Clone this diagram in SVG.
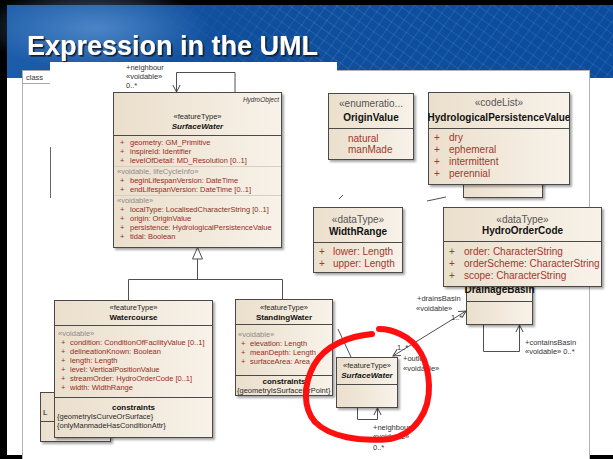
<svg xmlns="http://www.w3.org/2000/svg" width="613" height="459" viewBox="0 0 613 459">
  <defs>
    <style>
      text { font-family: "Liberation Sans", Arial, Helvetica, sans-serif; }
      .box { fill: url(#boxFill); stroke: #4a4a4a; stroke-width: 1; filter: url(#shadow); }
      .sep { stroke: #4a4a4a; stroke-width: 1; fill: none; }
      .sepl { stroke: #d9cfbf; stroke-width: 1; fill: none; }
      .edge { stroke: #505050; stroke-width: 1; fill: none; }
      .s7 { font-size: 7.5px; fill: #962c24; }
      .k7 { font-size: 7.5px; fill: #2a2a2a; }
      .g7 { font-size: 7.5px; fill: #8c8c8c; }
      .b8 { font-size: 8px; font-weight: bold; fill: #111; }
      .s10 { font-size: 10px; fill: #a3372e; }
      .k10 { font-size: 10px; fill: #555; }
      .b10 { font-size: 10px; font-weight: bold; fill: #111; }
      .lbl { font-size: 7.5px; fill: #333; }
      .mid { text-anchor: middle; }
    </style>
    <linearGradient id="hdrFill" x1="0" y1="0" x2="1" y2="0">
      <stop offset="0" stop-color="#1c5ca8"/>
      <stop offset="0.35" stop-color="#0f4f9e"/>
      <stop offset="1" stop-color="#0a4d9e"/>
    </linearGradient>
    <radialGradient id="mapGlow" cx="0.5" cy="0.5" r="0.5">
      <stop offset="0" stop-color="#5e95d2" stop-opacity="0.75"/>
      <stop offset="1" stop-color="#5e95d2" stop-opacity="0"/>
    </radialGradient>
    <pattern id="mesh" width="9" height="9" patternUnits="userSpaceOnUse" patternTransform="rotate(35)">
      <path d="M0 0 H9 M0 0 V9" stroke="#ffffff" stroke-opacity="0.25" stroke-width="0.8" fill="none"/>
    </pattern>
    <linearGradient id="meshFade" x1="0" y1="0" x2="1" y2="0">
      <stop offset="0" stop-color="#fff" stop-opacity="0"/>
      <stop offset="0.35" stop-color="#fff" stop-opacity="1"/>
      <stop offset="1" stop-color="#fff" stop-opacity="0.8"/>
    </linearGradient>
    <mask id="meshMask">
      <rect x="150" y="5" width="463" height="73" fill="url(#meshFade)"/>
    </mask>
    <linearGradient id="boxFill" x1="0" y1="0" x2="1" y2="0">
      <stop offset="0" stop-color="#ebdfcc"/>
      <stop offset="1" stop-color="#f8f2e9"/>
    </linearGradient>
    <filter id="shadow" x="-10%" y="-10%" width="130%" height="130%">
      <feDropShadow dx="2" dy="2" stdDeviation="1" flood-color="#000" flood-opacity="0.35"/>
    </filter>
    <filter id="titleShadow" x="-5%" y="-20%" width="110%" height="150%">
      <feDropShadow dx="1.6" dy="1.6" stdDeviation="0.7" flood-color="#151515" flood-opacity="0.9"/>
    </filter>
    <marker id="openArrow" viewBox="-9 -6 11 12" refX="0" refY="0" markerWidth="11" markerHeight="12" markerUnits="userSpaceOnUse" orient="auto-start-reverse">
      <path d="M-7,-3.6 L0,0 L-7,3.6" fill="none" stroke="#444" stroke-width="1"/>
    </marker>
    <clipPath id="clipSW"><rect x="113" y="92" width="168.5" height="155"/></clipPath>
    <clipPath id="clipWC"><rect x="54" y="300" width="158.5" height="137"/></clipPath>
    <clipPath id="clipHPV"><rect x="428" y="92" width="141.5" height="92"/></clipPath>
    <clipPath id="clipSSW"><rect x="336" y="357" width="61.5" height="50"/></clipPath>
  </defs>

  <!-- slide frame and header band -->
  <rect x="0" y="0" width="613" height="459" fill="#000"/>
  <rect x="7" y="5" width="606" height="450" fill="#fff"/>
  <rect x="7" y="5" width="606" height="73" fill="url(#hdrFill)"/>
  <ellipse cx="95" cy="28" rx="115" ry="42" fill="url(#mapGlow)"/>
  <rect x="150" y="5" width="463" height="73" fill="url(#mesh)" mask="url(#meshMask)"/>
  <text x="27" y="55" font-size="27" font-weight="bold" fill="#fff" filter="url(#titleShadow)">Expression in the UML</text>

  <!-- diagram frame -->
  <rect x="22.5" y="70.5" width="567" height="390" fill="#fff" stroke="#b3b3b3"/>
  <rect x="22.5" y="70.5" width="36" height="13" fill="#fff" stroke="#a8a8a8"/>
  <text x="26" y="80" font-size="7.5" fill="#333">class</text>
  <rect x="50" y="62" width="287" height="200" fill="#fff"/>
  <path d="M50.5 147 V198" stroke="#666" stroke-width="1"/>

  <!-- connectors -->
  <g id="connectors">
    <path class="edge" d="M235 92.5 V72.5 H176.5 V92" marker-end="url(#openArrow)"/>
    <path class="edge" d="M197.5 259 V279.5 M128.5 279.5 H282.5 M128.5 279.5 V300 M282.5 279.5 V299"/>
    <polygon points="197.5,247.5 192.5,259 202.5,259" fill="#fff" stroke="#505050"/>
    <path class="edge" d="M339 199 L343 195"/>
    <path class="edge" d="M427 201 L446 197"/>
    <path class="edge" d="M338 329 L351 357"/>
    <path class="edge" d="M393 356 L466 311" marker-start="url(#openArrow)" marker-end="url(#openArrow)"/>
    <path class="edge" d="M483.5 324.5 V351.5 H519.5 V325" marker-end="url(#openArrow)"/>
    <path class="edge" d="M357.5 407.5 V419.5 H377.5 V408" marker-end="url(#openArrow)"/>
    <text class="lbl" x="126" y="70" font-size="7">+neighbour</text>
    <text class="lbl" x="126" y="79" font-size="7">«voidable»</text>
    <text class="lbl" x="126" y="88" font-size="7">0..*</text>
    <text class="lbl" x="417" y="301">+drainsBasin</text>
    <text class="lbl" x="416" y="311">«voidable»</text>
    <text class="lbl" x="451" y="320">1..*</text>
    <text class="lbl" x="397" y="350">1..*</text>
    <text class="lbl" x="403" y="361">+outlet</text>
    <text class="lbl" x="403" y="371">«voidable»</text>
    <text class="lbl" x="525" y="345">+containsBasin</text>
    <text class="lbl" x="525" y="354">«voidable» 0..*</text>
    <text class="lbl" x="373" y="430">+neighbour</text>
    <text class="lbl" x="373" y="439">«voidable»</text>
    <text class="lbl" x="373" y="450">0..*</text>
  </g>

  <!-- SurfaceWater (HydroObject) -->
  <g id="surfacewater">
    <rect class="box" x="113.5" y="92.5" width="168" height="155"/>
    <path class="sep" d="M113.5 135.5 H281.5"/>
    <path class="sepl" d="M114 166.5 H281 M114 195.5 H281"/>
    <g clip-path="url(#clipSW)">
      <text x="279" y="102" font-size="6.5" font-style="italic" fill="#333" text-anchor="end">HydroObject</text>
      <text class="k7 mid" x="197.5" y="119">«featureType»</text>
      <text class="b8 mid" x="197.5" y="129" font-style="italic">SurfaceWater</text>
      <text class="s7" y="145"><tspan x="120">+</tspan><tspan x="130">geometry:  GM_Primitive</tspan></text>
      <text class="s7" y="154"><tspan x="120">+</tspan><tspan x="130">inspireId:  Identifier</tspan></text>
      <text class="s7" y="163"><tspan x="120">+</tspan><tspan x="130">levelOfDetail:  MD_Resolution [0..1]</tspan></text>
      <text class="g7" x="117" y="174">«voidable, lifeCycleInfo»</text>
      <text class="s7" y="183"><tspan x="120">+</tspan><tspan x="130">beginLifespanVersion:  DateTime</tspan></text>
      <text class="s7" y="192"><tspan x="120">+</tspan><tspan x="130">endLifespanVersion:  DateTime [0..1]</tspan></text>
      <text class="g7" x="117" y="203">«voidable»</text>
      <text class="s7" y="212"><tspan x="120">+</tspan><tspan x="130">localType:  LocalisedCharacterString [0..1]</tspan></text>
      <text class="s7" y="221"><tspan x="120">+</tspan><tspan x="130">origin:  OriginValue</tspan></text>
      <text class="s7" y="230"><tspan x="120">+</tspan><tspan x="130">persistence:  HydrologicalPersistenceValue</tspan></text>
      <text class="s7" y="239"><tspan x="120">+</tspan><tspan x="130">tidal:  Boolean</tspan></text>
    </g>
  </g>

  <!-- partly hidden class behind Watercourse -->
  <g id="lclass">
    <rect class="box" x="40.5" y="392.5" width="70" height="49"/>
    <path class="sep" d="M40.5 421.5 H110.5"/>
    <text x="43" y="415" font-size="8" fill="#111">L</text>
  </g>

  <!-- Watercourse -->
  <g id="watercourse">
    <rect class="box" x="54.5" y="300.5" width="158" height="137"/>
    <path class="sep" d="M54.5 325.5 H212.5 M54.5 397.5 H212.5"/>
    <g clip-path="url(#clipWC)">
      <text class="k7 mid" x="133.5" y="310">«featureType»</text>
      <text class="b8 mid" x="133.5" y="320">Watercourse</text>
      <text class="g7" x="58" y="336">«voidable»</text>
      <text class="s7" y="345"><tspan x="61">+</tspan><tspan x="70">condition:  ConditionOfFacilityValue [0..1]</tspan></text>
      <text class="s7" y="354"><tspan x="61">+</tspan><tspan x="70">delineationKnown:  Boolean</tspan></text>
      <text class="s7" y="363"><tspan x="61">+</tspan><tspan x="70">length:  Length</tspan></text>
      <text class="s7" y="372"><tspan x="61">+</tspan><tspan x="70">level:  VerticalPositionValue</tspan></text>
      <text class="s7" y="381"><tspan x="61">+</tspan><tspan x="70">streamOrder:  HydroOrderCode [0..1]</tspan></text>
      <text class="s7" y="390"><tspan x="61">+</tspan><tspan x="70">width:  WidthRange</tspan></text>
      <text class="b8 mid" x="133.5" y="410">constraints</text>
      <text class="k7" x="57" y="419">{geometryIsCurveOrSurface}</text>
      <text class="k7" x="57" y="428">{onlyManmadeHasConditionAttr}</text>
    </g>
  </g>

  <!-- StandingWater -->
  <g id="standingwater">
    <rect class="box" x="235.5" y="299.5" width="97" height="96"/>
    <path class="sep" d="M235.5 324.5 H332.5 M235.5 375.5 H332.5"/>
    <text class="k7 mid" x="284" y="310">«featureType»</text>
    <text class="b8 mid" x="284" y="320">StandingWater</text>
    <text class="g7" x="238" y="337">«voidable»</text>
    <text class="s7" y="346"><tspan x="241">+</tspan><tspan x="250">elevation:  Length</tspan></text>
    <text class="s7" y="355"><tspan x="241">+</tspan><tspan x="250">meanDepth:  Length</tspan></text>
    <text class="s7" y="364"><tspan x="241">+</tspan><tspan x="250">surfaceArea:  Area</tspan></text>
    <text class="b8 mid" x="284" y="384">constraints</text>
    <text class="k7" x="237" y="393">{geometryIsSurfaceOrPoint}</text>
  </g>

  <!-- OriginValue -->
  <g id="originvalue">
    <rect class="box" x="328.5" y="93.5" width="85" height="66"/>
    <path class="sep" d="M328.5 128.5 H413.5"/>
    <text class="k10 mid" x="371" y="106.5">«enumeratio...</text>
    <text class="b10 mid" x="371" y="120.5">OriginValue</text>
    <text class="s10" x="348" y="141.5">natural</text>
    <text class="s10" x="348" y="152.5">manMade</text>
  </g>

  <!-- box partly hidden behind the code list -->
  <g id="hiddenbox">
    <rect class="box" x="463.5" y="170.5" width="79" height="27"/>
  </g>

  <!-- HydrologicalPersistenceValue -->
  <g id="hydrologicalpersistencevalue">
    <rect class="box" x="428.5" y="92.5" width="141" height="92"/>
    <path class="sep" d="M428.5 128.5 H569.5"/>
    <g clip-path="url(#clipHPV)">
      <text class="k10 mid" x="499" y="105.5">«codeList»</text>
      <text class="b10 mid" x="499" y="120.5">HydrologicalPersistenceValue</text>
      <text class="s10" y="140.5"><tspan x="434">+</tspan><tspan x="449">dry</tspan></text>
      <text class="s10" y="152.5"><tspan x="434">+</tspan><tspan x="449">ephemeral</tspan></text>
      <text class="s10" y="164.5"><tspan x="434">+</tspan><tspan x="449">intermittent</tspan></text>
      <text class="s10" y="176.5"><tspan x="434">+</tspan><tspan x="449">perennial</tspan></text>
    </g>
  </g>

  <!-- WidthRange -->
  <g id="widthrange">
    <rect class="box" x="313.5" y="207.5" width="89" height="65"/>
    <path class="sep" d="M313.5 242.5 H402.5"/>
    <text class="k10 mid" x="358" y="222.5">«dataType»</text>
    <text class="b10 mid" x="358" y="234.5">WidthRange</text>
    <text class="s10" y="254.5"><tspan x="319">+</tspan><tspan x="333">lower:  Length</tspan></text>
    <text class="s10" y="266.5"><tspan x="319">+</tspan><tspan x="333">upper:  Length</tspan></text>
  </g>

  <!-- DrainageBasin (top hidden behind HydroOrderCode) -->
  <g id="drainagebasin">
    <rect class="box" x="466.5" y="262.5" width="66" height="62"/>
    <path class="sep" d="M466.5 301.5 H532.5"/>
    <text class="b10 mid" x="499.5" y="292.5">DrainageBasin</text>
  </g>

  <!-- HydroOrderCode -->
  <g id="hydroordercode">
    <rect class="box" x="443.5" y="207.5" width="158" height="79"/>
    <path class="sep" d="M443.5 241.5 H601.5"/>
    <text class="k10 mid" x="522.5" y="222.5">«dataType»</text>
    <text class="b10 mid" x="522.5" y="234">HydroOrderCode</text>
    <text class="s10" y="254.5"><tspan x="449">+</tspan><tspan x="464">order:  CharacterString</tspan></text>
    <text class="s10" y="266.5"><tspan x="449">+</tspan><tspan x="464">orderScheme:  CharacterString</tspan></text>
    <text class="s10" y="278.5"><tspan x="449">+</tspan><tspan x="464">scope:  CharacterString</tspan></text>
  </g>

  <!-- SurfaceWater reference -->
  <g id="surfacewater-ref">
    <rect class="box" x="336.5" y="357.5" width="61" height="50"/>
    <path class="sep" d="M336.5 384.5 H397.5"/>
    <g clip-path="url(#clipSSW)">
      <text class="k7 mid" x="367" y="368" font-size="8">«featureType»</text>
      <text class="b8 mid" x="367" y="378" font-style="italic">SurfaceWater</text>
    </g>
  </g>

  <!-- hand-drawn red highlight -->
  <path d="M372 334 C350 336 325 345 314 365 C303 385 303 408 315 422 C330 437 360 442 390 439 C415 434 430 412 429 385 C428 360 418 342 400 334 C392 330 385 329 379 329" fill="none" stroke="#ff1010" stroke-width="6" stroke-linecap="round"/>
</svg>
